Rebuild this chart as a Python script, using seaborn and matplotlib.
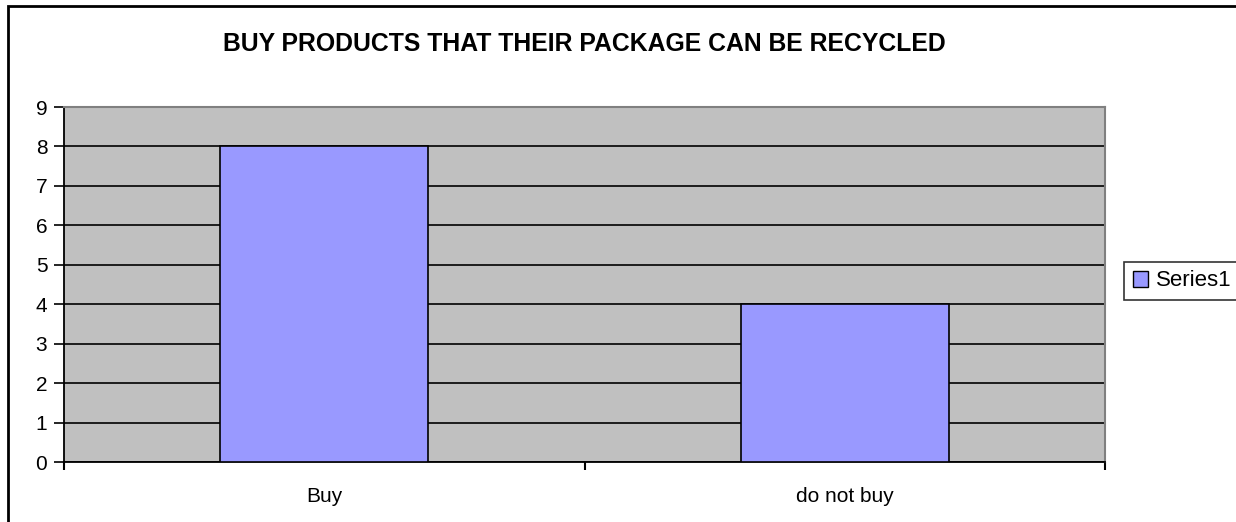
import matplotlib.pyplot as plt
import matplotlib.patches as mpatches
import seaborn as sns
import pandas as pd

# data
categories = ['Buy', 'do not buy']
values = [8, 4]
series_name = 'Series1'

df = pd.DataFrame({'answer': categories, 'count': values})

sns.set_style('white')
plt.rcParams['font.family'] = ['Liberation Sans', 'DejaVu Sans']
plt.rcParams['text.color'] = 'black'
plt.rcParams['xtick.color'] = 'black'
plt.rcParams['ytick.color'] = 'black'

fig = plt.figure(figsize=(12.36, 5.22), dpi=100)
ax = fig.add_axes([64 / 1236, 60 / 522, (1105 - 64) / 1236, (462 - 107) / 522])

# outer chart border (cut off at right and bottom like the original)
fig.add_artist(mpatches.Rectangle((8 / 1236, -0.1), 1.2, 1.1 - 6 / 522,
                                  transform=fig.transFigure, fill=False,
                                  edgecolor='black', linewidth=2))

ax.set_facecolor('#C0C0C0')
sns.barplot(data=df, x='answer', y='count', color='#9999FF', width=0.4,
            edgecolor='black', linewidth=1.2, saturation=1, ax=ax, zorder=3)

ax.set_ylim(0, 9)
ax.set_xlim(-0.5, 1.5)
ax.set_yticks(range(0, 10))
ax.yaxis.grid(True, color='black', linewidth=1.2, zorder=1)
ax.set_axisbelow(True)

# category ticks sit between categories
ax.set_xticks([-0.5, 0.5, 1.5], minor=False)
ax.set_xticklabels([])
ax.set_xticks([0, 1], minor=True)
ax.set_xticklabels(categories, minor=True)
ax.tick_params(axis='x', which='major', bottom=True, length=6, width=1.5, direction='out', color='black')
ax.tick_params(axis='x', which='minor', bottom=True, length=0, labelsize=15, pad=18)
ax.tick_params(axis='y', left=True, length=7, width=1.2, direction='out', color='black', labelsize=15, pad=5)

for side in ['top', 'right']:
    ax.spines[side].set_color('#808080')
    ax.spines[side].set_linewidth(1.5)
for side in ['left', 'bottom']:
    ax.spines[side].set_color('black')
    ax.spines[side].set_linewidth(1.3)

ax.set_xlabel('')
ax.set_ylabel('')

fig.text(584 / 1236, 1 - 44 / 522, 'BUY PRODUCTS THAT THEIR PACKAGE CAN BE RECYCLED',
         ha='center', va='center', fontsize=17.8, fontweight='bold')

handle = mpatches.Patch(facecolor='#9999FF', edgecolor='black', label=series_name)
leg = fig.legend(handles=[handle], loc='center left', bbox_to_anchor=(1124 / 1236, 1 - 281 / 522),
                 frameon=True, fancybox=False, fontsize=16, handlelength=0.7, handleheight=0.7,
                 handletextpad=0.35, borderpad=0.4, borderaxespad=0)
leg.get_frame().set_edgecolor('black')
leg.get_frame().set_linewidth(1.2)

fig.savefig('out.png', dpi=100)
